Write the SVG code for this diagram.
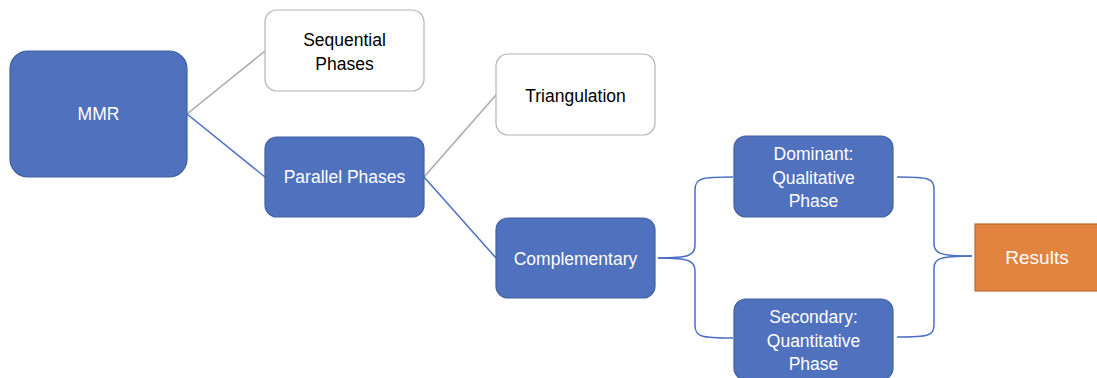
<svg xmlns="http://www.w3.org/2000/svg" width="1097" height="378" viewBox="0 0 1097 378">
  <style>
    .blue { fill: #5071BE; stroke: #40609F; stroke-width: 1.2; }
    .white { fill: #FFFFFF; stroke: #B4B4B4; stroke-width: 1.2; }
    .orange { fill: #E0843F; stroke: #B7692F; stroke-width: 1.2; }
    text { font-family: "Liberation Sans", Arial, sans-serif; font-size: 17.5px; text-anchor: middle; }
    .lt { fill: #FFFFFF; }
    .dk { fill: #000000; }
    .gray { stroke: #A9A9A9; stroke-width: 1.5; fill: none; }
    .bl { stroke: #4A6FC2; stroke-width: 1.5; fill: none; }
  </style>

  <g id="connectors">
    <line class="gray" x1="187" y1="114" x2="265" y2="51"/>
    <line class="bl" x1="187" y1="114" x2="265" y2="177"/>
    <line class="gray" x1="424" y1="177" x2="496" y2="95"/>
    <line class="bl" x1="424" y1="177" x2="496" y2="258"/>
    <!-- left brace: Complementary to the two phases -->
    <path class="bl" d="M733,177 C701,177 695,178 695,190 V245 C695,255 690,258 658,258"/>
    <path class="bl" d="M733,338 C701,338 695,337 695,325 V271 C695,261 690,258 658,258"/>
    <!-- right brace: the two phases to Results -->
    <path class="bl" d="M897,177 C929,177 934,178 934,190 V244 C934,253 939,256 972,256"/>
    <path class="bl" d="M897,337 C929,337 934,336 934,324 V268 C934,259 939,256 972,256"/>
  </g>

  <g id="mmr">
    <rect class="blue" x="10" y="51" width="177" height="126" rx="18"/>
    <text class="lt" x="98.5" y="120">MMR</text>
  </g>

  <g id="sequential">
    <rect class="white" x="265" y="10" width="159" height="81" rx="12"/>
    <text class="dk" x="344.5" y="46">Sequential</text>
    <text class="dk" x="344.5" y="70">Phases</text>
  </g>

  <g id="parallel">
    <rect class="blue" x="265" y="137" width="159" height="80" rx="12"/>
    <text class="lt" x="344.5" y="183">Parallel Phases</text>
  </g>

  <g id="triangulation">
    <rect class="white" x="496" y="54" width="159" height="81" rx="12"/>
    <text class="dk" x="575.5" y="102">Triangulation</text>
  </g>

  <g id="complementary">
    <rect class="blue" x="496" y="218" width="159" height="80" rx="12"/>
    <text class="lt" x="575.5" y="265">Complementary</text>
  </g>

  <g id="dominant">
    <rect class="blue" x="734" y="136" width="159" height="81" rx="12"/>
    <text class="lt" x="813.5" y="160">Dominant:</text>
    <text class="lt" x="813.5" y="183.5">Qualitative</text>
    <text class="lt" x="813.5" y="207">Phase</text>
  </g>

  <g id="secondary">
    <rect class="blue" x="734" y="299" width="159" height="81" rx="12"/>
    <text class="lt" x="813.5" y="323">Secondary:</text>
    <text class="lt" x="813.5" y="347">Quantitative</text>
    <text class="lt" x="813.5" y="370">Phase</text>
  </g>

  <g id="results">
    <rect class="orange" x="975" y="224" width="124" height="67"/>
    <text class="lt" x="1037" y="264" style="font-size:19px">Results</text>
  </g>
</svg>
